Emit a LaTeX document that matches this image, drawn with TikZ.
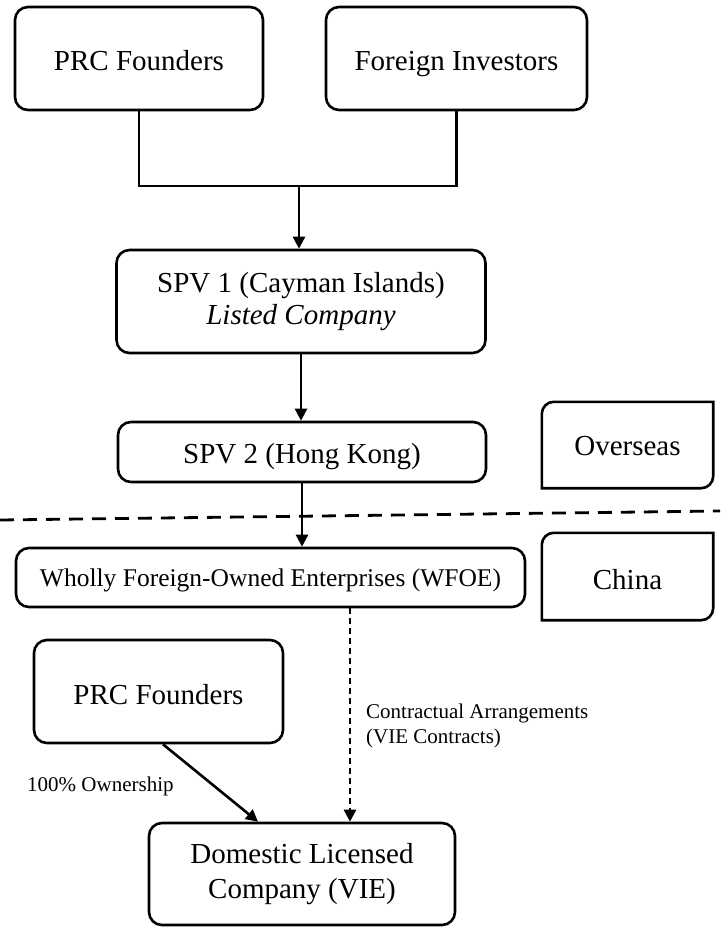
\documentclass[tikz,border=0pt]{standalone}
\usepackage{fontspec}
\setmainfont{Liberation Serif}
\usetikzlibrary{arrows.meta}
\begin{document}
\begin{tikzpicture}[x=1pt,y=-1pt,
  box/.style={draw, line width=2.6pt, rounded corners=13pt, inner sep=0pt, align=center, font=\fontsize{29}{33}\selectfont},
  oneline/.style={text height=#1, text depth=0pt},
  conn/.style={line width=2.6pt},
  arr/.style={line width=2.6pt, -{Triangle[length=12pt,width=12pt]}},
  lbl/.style={font=\fontsize{21}{25}\selectfont, align=left, inner sep=0pt},
  region/.style={inner sep=0pt, font=\fontsize{29}{33}\selectfont},
  regionline/.style={line width=2.6pt, line join=miter}]
\useasboundingbox (0,0) rectangle (720,928);

% boxes
\node[box, oneline=25pt, minimum width=248pt, minimum height=103pt] (prc1) at (139,58.5) {PRC Founders};
\node[box, oneline=25pt, minimum width=261pt, minimum height=103pt] (fi) at (456.5,58.5) {Foreign Investors};
\node[box, minimum width=369pt, minimum height=103pt, font=\fontsize{29}{32}\selectfont] (spv1) at (301,301.5) {SPV 1 (Cayman Islands)\\\textit{Listed Company}};
\node[box, oneline=22pt, minimum width=368pt, minimum height=60pt] (spv2) at (302,452) {SPV 2 (Hong Kong)};
\node[box, oneline=17pt, minimum width=509pt, minimum height=59pt, font=\fontsize{25.5}{30}\selectfont] (wfoe) at (270.5,577.5) {Wholly Foreign-Owned Enterprises (WFOE)};
\node[box, oneline=25pt, minimum width=249pt, minimum height=103pt] (prc2) at (158.5,691.5) {PRC Founders};
\node[box, minimum width=306pt, minimum height=102pt, font=\fontsize{29}{35}\selectfont] (dom) at (302,874) {Domestic Licensed\\Company (VIE)};

% region labels
\node[region, oneline=20pt, minimum width=171pt, minimum height=86pt] (ovs) at (627.5,445) {Overseas};
\node[region, oneline=25pt, minimum width=171pt, minimum height=87pt] (cn) at (627.5,576.5) {China};
\draw[regionline] (ovs.south west) -- ([yshift=-12pt]ovs.north west) arc[start angle=180,end angle=90,radius=12pt] -- (ovs.north east) -- ([yshift=12pt]ovs.south east) arc[start angle=0,end angle=-90,radius=12pt] -- cycle;
\draw[regionline] (cn.south west) -- ([yshift=-12pt]cn.north west) arc[start angle=180,end angle=90,radius=12pt] -- (cn.north east) -- ([yshift=12pt]cn.south east) arc[start angle=0,end angle=-90,radius=12pt] -- cycle;

% border line
\coordinate (bl) at (0,520);
\coordinate (br) at (720,511);
\draw[line width=2.8pt, dash pattern=on 14pt off 9pt] (bl) -- (br);

% connectors
\coordinate (j) at (299,186);
\draw[conn] (prc1.south) |- (j) -| (fi.south);
\draw[arr] (j) -- (j |- spv1.north);
\draw[arr] (spv1.south) -- (spv1.south |- spv2.north);
\draw[arr] (spv2.south) -- (spv2.south |- wfoe.north);
\coordinate (vx) at (350,0);
\draw[arr, dash pattern=on 6pt off 4pt] (wfoe.south -| vx) -- (dom.north -| vx);
\draw[arr] ([xshift=4.5pt]prc2.south) -- ([xshift=-44pt]dom.north);

% labels
\node[lbl, anchor=west] (lc) at (366,726) {Contractual Arrangements\\(VIE Contracts)};
\node[lbl, anchor=base west] (lo) at (27,791) {100\% Ownership};
\end{tikzpicture}
\end{document}
